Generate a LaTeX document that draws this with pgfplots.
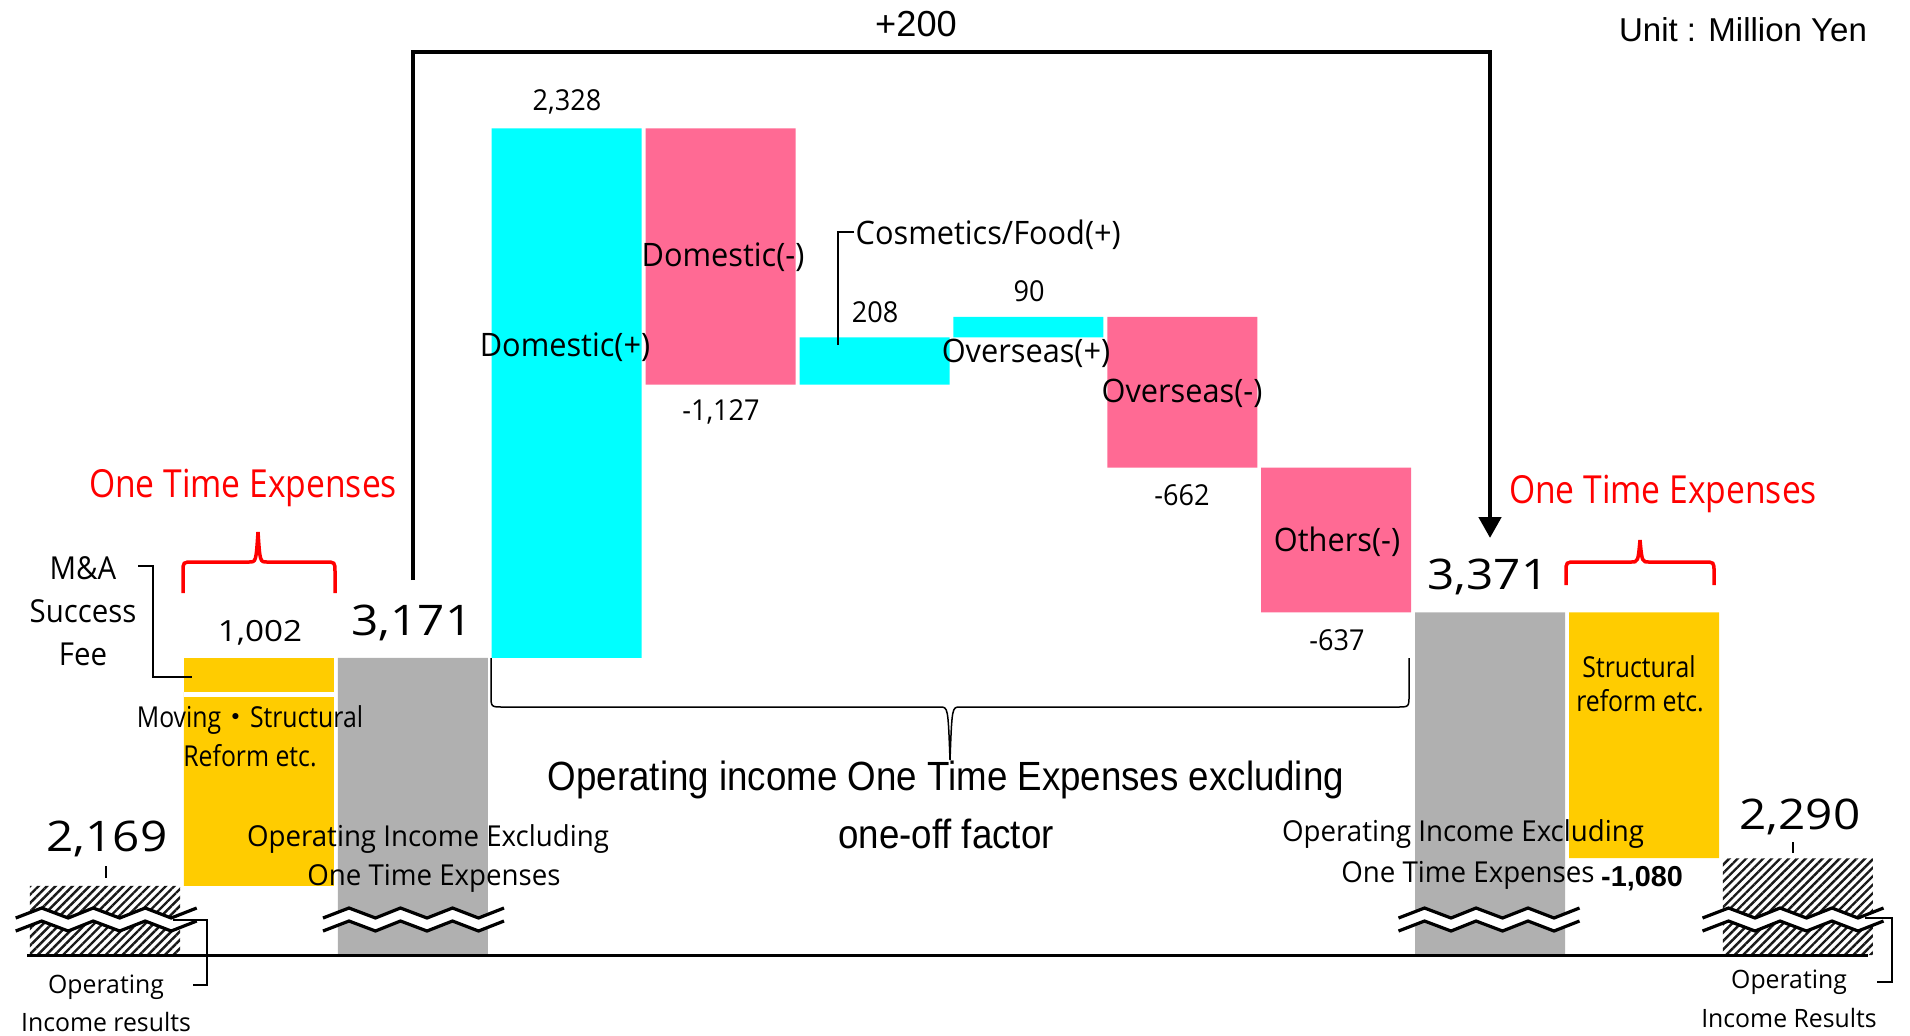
\documentclass[border=0pt]{standalone}
\usepackage{pgfplots}
\pgfplotsset{compat=1.18}
\usepackage{pgfplotstable}
\usetikzlibrary{patterns.meta,arrows.meta}
\usepackage{fontspec}
\setmainfont{Open Sans}
\newfontfamily\arialf{Liberation Sans}
\newfontfamily\jpf{Noto Sans CJK JP}
\newcommand\me[2]{\fontsize{#1pt}{#1pt}\selectfont\addfontfeature{FakeStretch=#2}}
\newcommand\ar[2]{\arialf\fontsize{#1pt}{#1pt}\selectfont\addfontfeature{FakeStretch=#2}}
\definecolor{wfcyan}{RGB}{0,255,255}
\definecolor{wfpink}{RGB}{255,106,148}
\definecolor{wfgrey}{RGB}{176,176,176}
\definecolor{wfyel}{RGB}{255,204,0}

% waterfall: base = invisible start of each bar; the other columns are the visible parts
% (1865 = level of the broken baseline)
\pgfplotstableread{
i  base  hatch yelA yelB grey cyan pink
0  1865  304   0    0    0    0    0
1  2169  0     852  150  0    0    0
2  1865  0     0    0    1306 0    0
3  3171  0     0    0    0    2328 0
4  4372  0     0    0    0    0    1127
5  4372  0     0    0    0    208  0
6  4580  0     0    0    0    90   0
7  4008  0     0    0    0    0    662
8  3371  0     0    0    0    0    637
9  1865  0     0    0    1506 0    0
10 2291  0     1080 0    0    0    0
11 1865  425   0    0    0    0    0
}\wf

\newcommand\zz[1]{%
  \fill[white] (#1-90.5,918) -- (#1-64.5,908) -- (#1-38,918) -- (#1-13,908) -- (#1+13.5,918) -- (#1+39,908) -- (#1+65,918) -- (#1+90.5,908)
   -- (#1+90.5,921) -- (#1+65,931) -- (#1+39,921) -- (#1+13.5,931) -- (#1-13,921) -- (#1-38,931) -- (#1-64.5,921) -- (#1-90.5,931) -- cycle;
  \draw[line width=0.32mm] (#1-90.5,918) -- (#1-64.5,908) -- (#1-38,918) -- (#1-13,908) -- (#1+13.5,918) -- (#1+39,908) -- (#1+65,918) -- (#1+90.5,908);
  \draw[line width=0.32mm] (#1-90.5,931) -- (#1-64.5,921) -- (#1-38,931) -- (#1-13,921) -- (#1+13.5,931) -- (#1+39,921) -- (#1+65,931) -- (#1+90.5,921);
}

\begin{document}
\begin{tikzpicture}
\useasboundingbox (0,0) rectangle (191mm,103.5mm);
\begin{axis}[at={(0,0)},anchor=south west,width=191mm,height=103.5mm,scale only axis,hide axis,
  xmin=-0.68226,xmax=11.7284,ymin=1513.5,ymax=6063,enlargelimits=false,
  ybar stacked,bar width=0.9747]
\addplot[draw=none,fill=none] table[x=i,y=base]{\wf};
\addplot[draw=none,pattern={Lines[angle=45,distance=0.6mm,line width=0.24mm]},pattern color=black!90] table[x=i,y=hatch]{\wf};
\addplot[draw=none,fill=wfyel] table[x=i,y=yelA]{\wf};
\addplot[draw=none,fill=wfyel] table[x=i,y=yelB]{\wf};
\addplot[draw=none,fill=wfgrey] table[x=i,y=grey]{\wf};
\addplot[draw=none,fill=wfcyan] table[x=i,y=cyan]{\wf};
\addplot[draw=none,fill=wfpink] table[x=i,y=pink]{\wf};
\end{axis}

\begin{scope}[x=0.1mm,y=-0.1mm,yshift=103.5mm,every node/.style={inner sep=0pt}]
% separator in left yellow bar
\draw[white,line width=0.5mm] (184,694.5) -- (336,694.5);
% baseline
\draw[line width=0.3mm] (27,955) -- (1868,955);
% break marks
\zz{106.2}\zz{413.5}\zz{1489}\zz{1793}
% connector +200
\draw[line width=0.47mm,line join=miter,-{Triangle[width=2.2mm,length=2.1mm]}] (413,580) -- (413,52) -- (1490,52) -- (1490,538);
\node at (916,24) {\ar{10.3}{1}+200};
\node at (1743,30) {\ar{9.4}{1}Unit : Million Yen};
% red braces
\draw[red,line width=0.35mm] (183,593) -- (183,572) .. controls (183,562) .. (193,562) -- (249,562) .. controls (256,562) .. (258,532) .. controls (260,562) .. (267,562) -- (325,562) .. controls (335,562) .. (335,572) -- (335,593);
\draw[red,line width=0.35mm] (1566,585) -- (1566,572) .. controls (1566,562) .. (1576,562) -- (1631,562) .. controls (1638,562) .. (1640,540) .. controls (1642,562) .. (1649,562) -- (1704,562) .. controls (1714,562) .. (1714,572) -- (1714,585);
\node at (243,488) {\color{red}\me{11}{0.87}One Time Expenses};
\node at (1663,494) {\color{red}\me{11}{0.87}One Time Expenses};
% central brace
\draw[line width=0.15mm] (491,658) -- (491,695) .. controls (491,707) .. (503,707) -- (940,707) .. controls (948,707) .. (950,760) .. controls (952,707) .. (960,707) -- (1397,707) .. controls (1409,707) .. (1409,695) -- (1409,658);
\node at (946,780) {\ar{11.6}{0.9}Operating income One Time Expenses excluding};
\node at (946,834) {\ar{11.6}{0.9}one-off factor};
% leaders and brackets
\draw[line width=0.25mm] (138,566) -- (153,566) -- (153,677) -- (192,677);
\draw[line width=0.22mm] (854,232) -- (838,232) -- (838,345);
\draw[line width=0.25mm] (173,920) -- (207,920) -- (207,985) -- (193,985);
\draw[line width=0.25mm] (1865,918) -- (1892,918) -- (1892,982) -- (1877,982);
\draw[line width=0.22mm] (106,866) -- (106,878);
\draw[line width=0.22mm] (1793,842) -- (1793,853);
% bar labels
\node at (567,102) {\me{8.2}{0.94}2,328};
\node at (565,347) {\me{9.2}{0.95}Domestic(+)};
\node at (723,257) {\me{9.2}{0.95}Domestic(-)};
\node at (721,412) {\me{8.2}{0.94}-1,127};
\node[anchor=west] at (855,235) {\me{9.2}{0.95}Cosmetics/Food(+)};
\node at (875,312) {\me{8.2}{0.94}208};
\node at (1029,291) {\me{8.2}{0.94}90};
\node at (1026,353) {\me{9.2}{0.95}Overseas(+)};
\node at (1182,393) {\me{9.2}{0.95}Overseas(-)};
\node at (1182,495) {\me{8.2}{0.94}-662};
\node at (1337,542) {\me{9.2}{0.95}Others(-)};
\node at (1337,640) {\me{8.2}{0.94}-637};
\node at (412,623) {\me{12}{1.13}3,171};
\node at (1488,577) {\me{12}{1.13}3,371};
\node at (107,839) {\me{12}{1.13}2,169};
\node at (1800,817) {\me{12}{1.13}2,290};
\node at (260,633) {\me{8.3}{1.14}1,002};
\node at (83,568) {\me{9}{0.93}M\&A};
\node at (83,611) {\me{9}{0.93}Success};
\node at (83,654) {\me{9}{0.93}Fee};
\node at (250,720) {\me{8.2}{0.86}Moving{\jpf ・}Structural};
\node at (250,756) {\me{8.2}{0.86}Reform etc.};
\node at (1639,667) {\me{8.2}{0.86}Structural};
\node at (1640,701) {\me{8.2}{0.86}reform etc.};
\node at (428,839) {\me{8.2}{0.96}Operating Income Excluding};
\node at (434,878) {\me{8.2}{0.96}One Time Expenses};
\node at (1463,834) {\me{8.2}{0.96}Operating Income Excluding};
\node at (1468,875) {\me{8.2}{0.96}One Time Expenses};
\node at (1642,879) {\arialf\bfseries\fontsize{8.2pt}{8.2pt}\selectfont -1,080};
\node at (106,987) {\me{7.2}{0.98}Operating};
\node at (106,1022) {\me{7.2}{0.98}Income results};
\node at (1789,982) {\me{7.2}{0.98}Operating};
\node at (1789,1018) {\me{7.2}{0.98}Income Results};
\end{scope}
\end{tikzpicture}
\end{document}
